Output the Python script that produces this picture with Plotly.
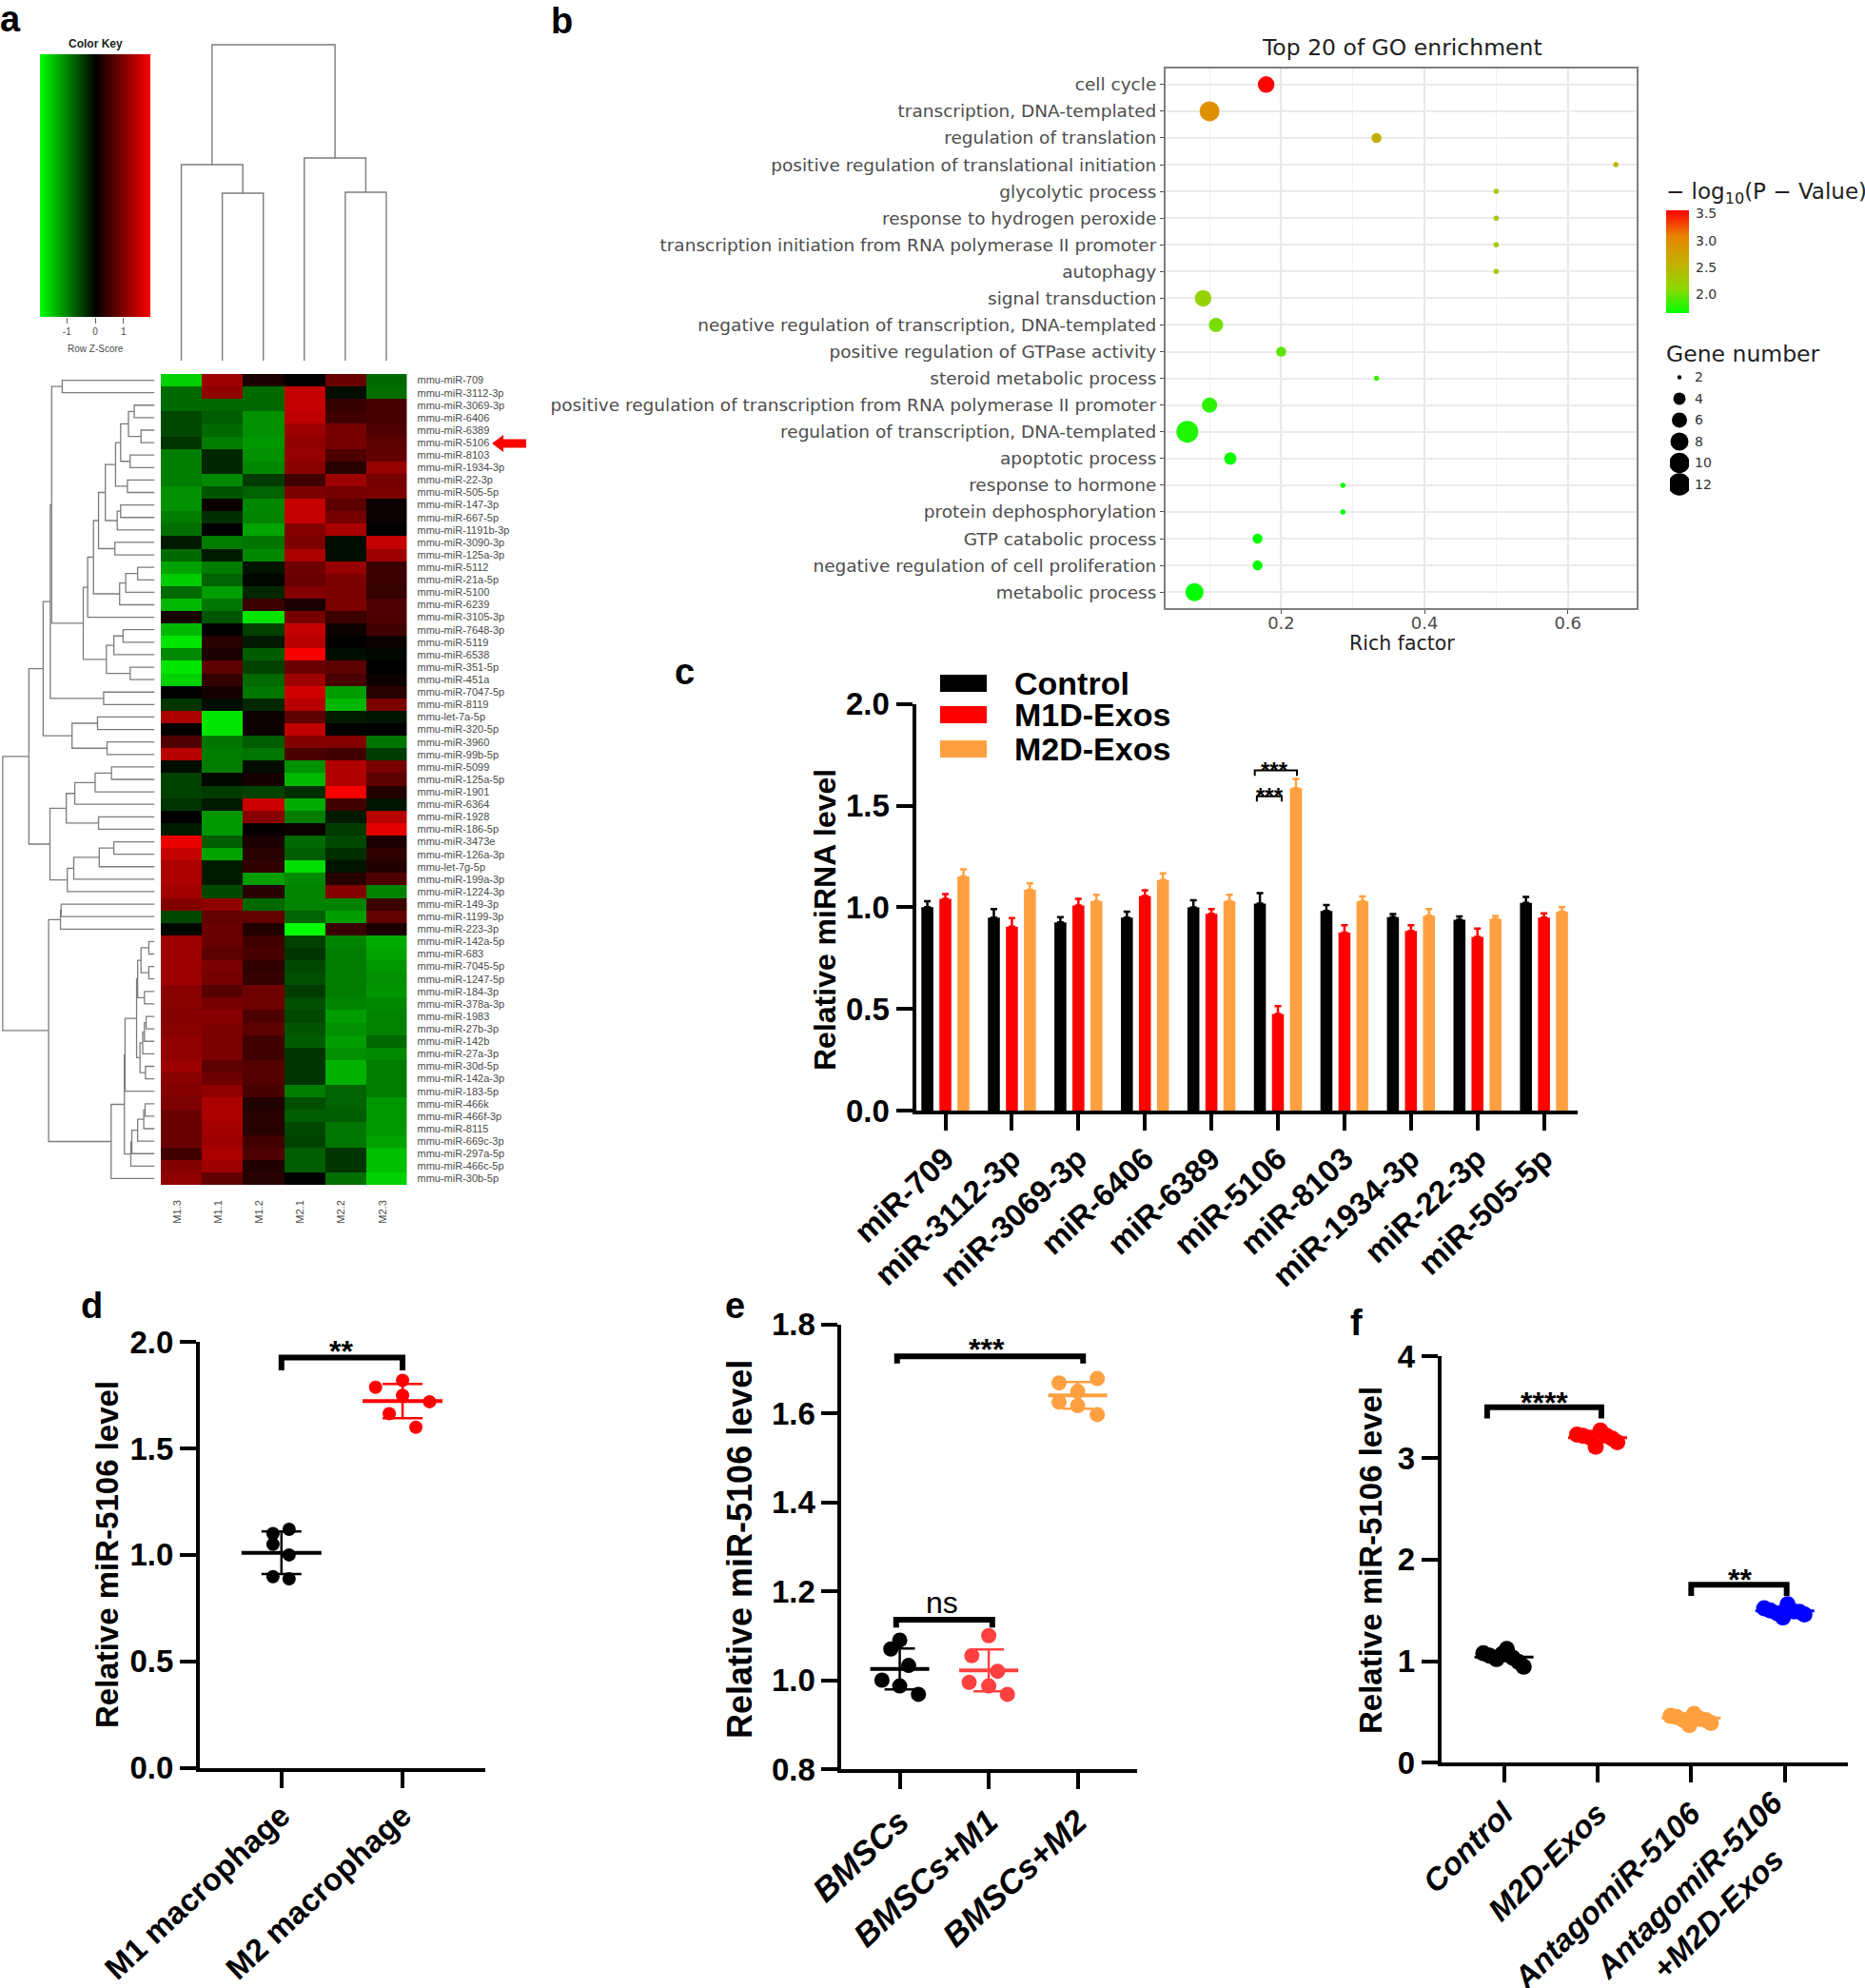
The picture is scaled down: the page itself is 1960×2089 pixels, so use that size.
import numpy as np
import plotly.graph_objects as go

W, H = 1960, 2089
ARIAL = "Liberation Sans"
DEJA = "DejaVu Sans"

# ---------- panel a ----------
sample_names = ["M1.3", "M1.1", "M1.2", "M2.1", "M2.2", "M2.3"]
row_names = ["mmu-miR-709","mmu-miR-3112-3p","mmu-miR-3069-3p","mmu-miR-6406","mmu-miR-6389","mmu-miR-5106","mmu-miR-8103",
 "mmu-miR-1934-3p","mmu-miR-22-3p","mmu-miR-505-5p","mmu-miR-147-3p","mmu-miR-667-5p","mmu-miR-1191b-3p","mmu-miR-3090-3p",
 "mmu-miR-125a-3p","mmu-miR-5112","mmu-miR-21a-5p","mmu-miR-5100","mmu-miR-6239","mmu-miR-3105-3p","mmu-miR-7648-3p",
 "mmu-miR-5119","mmu-miR-6538","mmu-miR-351-5p","mmu-miR-451a","mmu-miR-7047-5p","mmu-miR-8119","mmu-let-7a-5p",
 "mmu-miR-320-5p","mmu-miR-3960","mmu-miR-99b-5p","mmu-miR-5099","mmu-miR-125a-5p","mmu-miR-1901","mmu-miR-6364",
 "mmu-miR-1928","mmu-miR-186-5p","mmu-miR-3473e","mmu-miR-126a-3p","mmu-let-7g-5p","mmu-miR-199a-3p","mmu-miR-1224-3p",
 "mmu-miR-149-3p","mmu-miR-1199-3p","mmu-miR-223-3p","mmu-miR-142a-5p","mmu-miR-683","mmu-miR-7045-5p","mmu-miR-1247-5p",
 "mmu-miR-184-3p","mmu-miR-378a-3p","mmu-miR-1983","mmu-miR-27b-3p","mmu-miR-142b","mmu-miR-27a-3p","mmu-miR-30d-5p",
 "mmu-miR-142a-3p","mmu-miR-183-5p","mmu-miR-466k","mmu-miR-466f-3p","mmu-miR-8115","mmu-miR-669c-3p","mmu-miR-297a-5p",
 "mmu-miR-466c-5p","mmu-miR-30b-5p"]
zscores = [
 [-1.6,1.2,.2,0,.8,-.8],[-.8,1.1,-.8,1.5,-.1,-.85],[-.8,-.8,-.8,1.5,.4,.55],[-.55,-.7,-1.1,1.45,.5,.55],
 [-.55,-.8,-1.1,1.2,.9,.6],[-.4,-.95,-1.15,1.1,.9,.7],[-.95,-.3,-1.1,1.15,.6,.75],[-.95,-.3,-1.05,1.05,.3,1.15],
 [-.95,-1.05,-.45,.5,1.2,.9],[-1.1,-.65,-.75,.95,.9,.95],[-1.1,.1,-1.05,1.5,.7,.1],[-.95,-.35,-1,1.5,.9,.1],
 [-.85,0,-1.25,1,1.3,0],[-.2,-.95,-.9,.95,-.1,1.5],[-.8,-.2,-1.05,1.3,-.1,1.2],[-1.25,-.95,-.15,.85,1.15,.45],
 [-1.55,-.75,-.05,.8,.95,.45],[-.8,-1.2,-.3,1,.95,.4],[-1.4,-.9,.45,.2,.95,.6],[.15,-.65,-1.75,.9,.45,.6],
 [-1.4,0,-.5,1.5,.1,.5],[-1.75,.3,-.2,1.4,0,.1],[-1.05,.2,-.7,1.9,-.1,-.05],[-1.75,.7,-.5,.8,.7,0],
 [-1.6,.4,-.8,1.2,.55,.1],[0,.15,-.9,1.6,-1.2,.3],[-.4,-.1,-.3,1.4,-1.4,.95],[1.3,-1.75,.1,.7,-.2,-.15],
 [.05,-1.75,.1,1.45,0,0],[.6,-.9,-.7,1,1,-.9],[1.4,-.95,-.9,.55,.5,-.45],[-.1,-.95,-.1,-1.1,1.35,.9],
 [-.5,-.05,.15,-1.4,1.35,.7],[-.5,-.45,-.5,-.35,1.9,.25],[-.4,-.2,1.55,-1.3,.5,-.15],[0,-1.15,1.05,-.95,-.2,1.4],
 [-.2,-1.15,.05,.1,-.45,1.75],[1.8,-.7,.2,-.8,-.55,.2],[1.5,-1.25,.3,-.7,-.35,.35],[1.3,-.2,.35,-1.7,-.15,.25],
 [1.3,-.2,-1.2,-1.05,.3,.6],[1.25,-.55,.3,-1,1,-1],[1,1.1,-.8,-1,-1,.45],[-.55,.75,.75,-.75,-1.2,.75],
 [-.05,.8,.25,-1.95,.45,.2],[1.2,.8,.5,-.5,-1,-1.3],[1.2,.7,.55,-.4,-.95,-1.25],[1.2,.95,.35,-.55,-.95,-1.15],
 [1.2,.9,.4,-.6,-.95,-1.1],[1.05,.65,.85,-.45,-.95,-1.15],[1.05,.9,.85,-.6,-1,-1.05],[1,1.05,.6,-.55,-1.2,-1],
 [1.05,.95,.7,-.65,-1.1,-1],[1.1,.95,.5,-.7,-1.2,-.8],[1.1,.95,.5,-.4,-1.1,-1.05],[1.2,.7,.65,-.4,-1.35,-.95],
 [1.05,.85,.65,-.4,-1.35,-.95],[1,1.1,.55,-.95,-.75,-.95],[.95,1.3,.25,-.6,-.75,-1.15],[.8,1.3,.3,-.7,-.7,-1.15],
 [.8,1.25,.3,-.55,-.9,-1.15],[.8,1.2,.5,-.5,-.9,-1.25],[.5,1.3,.6,-.7,-.4,-1.45],[1,1.2,.25,-.7,-.4,-1.45],
 [1.1,.75,.3,0,-.85,-1.6]]
key_values = [-1.95,-1.5,-1,-.5,0,.5,1,1.5,1.95]
key_ticks = [-1, 0, 1]

# dendrogram merges: (position of the merge, first child, second child); 0 is a leaf
row_tree = (8,
  (85,
    (127,
      (148,
        (152, (183,0,0),
          (245,
            (258,
              (275,
                (290,
                  (310,
                    (340,
                      (355, (378,(395,0,0),(415,0,0)), (383,0,0)),
                      (375,0,0)),
                    (345,(355,0,0),0)),
                  (338,0,0)),
                (352,(370,(405,0,0),0),0)),
              0),
            (313,(335,(362,0,0),0),(383,0,0)))),
        (305,0,0)),
      (212,(287,0,0),(315,0,0))),
    (147,
      (195,(220,(280,(328,0,0),0),0),(290,0,0)),
      (198,(217,(292,(335,0,0),0),0),0))),
  (143,
    (178,(180,0,0),0),
    (327,
      (366,
        (368,
          (402,
            (405,(415,(438,0,0),(438,0,0)),(425,0,0)),
            (412,(420,(425,(430,0,0),0),0),(428,0,0))),
          0),
        (385,(388,(405,(423,(427,0,0),0),0),0),0)),
      0)))
col_tree = (47, (173,0,(203,0,0)), (166,0,(202,0,0)))

# ---------- panel b ----------
go_terms = ["cell cycle","transcription, DNA-templated","regulation of translation","positive regulation of translational initiation",
 "glycolytic process","response to hydrogen peroxide","transcription initiation from RNA polymerase II promoter","autophagy",
 "signal transduction","negative regulation of transcription, DNA-templated","positive regulation of GTPase activity",
 "steroid metabolic process","positive regulation of transcription from RNA polymerase II promoter",
 "regulation of transcription, DNA-templated","apoptotic process","response to hormone","protein dephosphorylation",
 "GTP catabolic process","negative regulation of cell proliferation","metabolic process"]
rich_factor = [.179,.1,.333,.667,.5,.5,.5,.5,.091,.109,.2,.333,.1,.069,.129,.286,.286,.167,.167,.079]
gene_number = [7,10,3,2,2,2,2,2,7,5,3,2,6,12,4,2,2,3,3,8]
log_p = [3.55,2.95,2.6,2.5,2.32,2.3,2.28,2.25,2.2,2.05,1.95,1.85,1.8,1.75,1.7,1.68,1.67,1.66,1.65,1.65]
p_scale_ticks = [2, 2.5, 3, 3.5]
p_scale_values = [1.65,1.9,2.15,2.4,2.65,2.9,3.15,3.4,3.56]
gene_legend = [2,4,6,8,10,12]
gene_sizes_n = [2,3,4,5,6,7,8,10,12]
gene_sizes_px = [5.5,10.5,13,15,16,17.5,19,21,23]

# ---------- panel c ----------
mirnas = ["miR-709","miR-3112-3p","miR-3069-3p","miR-6406","miR-6389","miR-5106","miR-8103","miR-1934-3p","miR-22-3p","miR-505-5p"]
ctrl_vals = [1.0,.949,.925,.949,.999,1.018,.982,.951,.939,1.022]
ctrl_err = [.03,.042,.026,.029,.035,.052,.029,.015,.016,.029]
m1_vals = [1.042,.904,1.009,1.055,.968,.475,.875,.883,.854,.949]
m1_err = [.023,.043,.033,.029,.023,.039,.037,.029,.041,.021]
m2_vals = [1.152,1.086,1.03,1.134,1.03,1.585,1.03,.958,.943,.978]
m2_err = [.034,.031,.031,.033,.031,.046,.023,.033,.014,.022]

# ---------- panels d, e, f ----------
d_cats = ["M1 macrophage","M2 macrophage"]
d_m1 = [1.12,1.10,1.05,1.0,.898,.888]
d_m1_off = [.063,-.07,-.07,.063,-.07,.063]
d_m2 = [1.82,1.788,1.75,1.72,1.664,1.60]
d_m2_off = [0,-.223,0,.223,-.11,.11]
d_means = [1.01,1.723]
d_sd = [.1,.081]

e_cats = ["BMSCs","BMSCs+M1","BMSCs+M2"]
e_a = [1.09,1.07,1.033,1.0,.987,.968]
e_a_off = [0,-.1,.1,-.2,0,.21]
e_b = [1.10,1.055,1.02,.995,.987,.968]
e_b_off = [0,-.19,.1,-.22,0,.21]
e_c = [1.678,1.668,1.649,1.625,1.617,1.597]
e_c_off = [.22,-.21,0,-.21,0,.22]
e_means = [1.025,1.022,1.64]
e_sd = [.046,.047,.03]

f_cats = ["Control","M2D-Exos","AntagomiR-5106"," "]
f_last_label = "AntagomiR-5106<br>+M2D-Exos"
f_off = [-.22,-.157,-.08,.03,.094,.157,.21,-.02]
f_a = [1.077,1.055,1.02,1.12,1.033,.99,.945,1.07]
f_b = [3.23,3.22,3.2,3.27,3.22,3.19,3.155,3.11]
f_c = [.46,.45,.42,.48,.43,.42,.39,.37]
f_d = [1.52,1.5,1.47,1.56,1.49,1.485,1.46,1.43]
f_means = [1.04,3.2,.44,1.495]
f_sd = [.04,.04,.03,.03]

# ---------- helpers ----------
fig = go.Figure()
layout = {}
annos = []
shapes = []

def dx(a, b): return [a / W, b / W]
def dy(top, bot): return [1 - bot / H, 1 - top / H]

def axes(n, xd, yd, xa=None, ya=None):
    base = dict(showgrid=False, zeroline=False, visible=True)
    xx = dict(base, domain=xd, anchor=f"y{n}"); xx.update(xa or {})
    yy = dict(base, domain=yd, anchor=f"x{n}"); yy.update(ya or {})
    layout[f"xaxis{n}"] = xx
    layout[f"yaxis{n}"] = yy
    return f"x{n}", f"y{n}"

def hidden(**k):
    d = dict(visible=False, fixedrange=True)
    d.update(k)
    return d

def txt(x, y, s, size, color="black", bold=False, italic=False, angle=0, family=ARIAL, xa="center", ya="middle"):
    if bold: s = f"<b>{s}</b>"
    if italic: s = f"<i>{s}</i>"
    annos.append(dict(xref="paper", yref="paper", x=x / W, y=1 - y / H, text=s, showarrow=False, textangle=angle,
                      xanchor=xa, yanchor=ya, font=dict(family=family, size=size, color=color)))

def tree_lines(node, counter, leaf_pos):
    if node == 0:
        i = counter[0]; counter[0] += 1
        return float(i), leaf_pos, [], []
    h, a, b = node
    ya_, xa_, px1, py1 = tree_lines(a, counter, leaf_pos)
    yb_, xb_, px2, py2 = tree_lines(b, counter, leaf_pos)
    px = px1 + px2 + [xa_, h, h, xb_, None]
    py = py1 + py2 + [ya_, ya_, yb_, yb_, None]
    return (ya_ + yb_) / 2, h, px, py

DEND = "#7c7c7c"
TXT_A = "#4a4a4a"
rg = [[0, "#00ff00"], [.5, "#000000"], [1, "#ff0000"]]

# ---------- panel a drawing ----------
hm_l, hm_r, hm_t, hm_b = 169, 427.5, 393, 1245
xn, yn = axes(1, dx(hm_l, hm_r), dy(hm_t, hm_b),
    dict(tickmode="array", tickvals=sample_names, ticktext=sample_names, tickangle=-90, ticks="", ticklabelstandoff=13, ticklabelshift=-4,
         tickfont=dict(family=ARIAL, size=11, color=TXT_A), type="category"),
    dict(tickmode="array", tickvals=row_names, ticktext=row_names, side="right", ticks="", ticklabelstandoff=10,
         tickfont=dict(family=ARIAL, size=11, color=TXT_A), type="category", autorange="reversed"))
fig.add_trace(go.Heatmap(z=zscores, x=sample_names, y=row_names, colorscale=rg, zmin=-1.95, zmax=1.95, showscale=False,
                         xaxis=xn, yaxis=yn, xgap=0, ygap=0))

_, _, rx, ry = tree_lines(row_tree, [0], 455)
xn, yn = axes(2, dx(0, 162.5), dy(hm_t, hm_b), hidden(range=[0, 455]), hidden(range=[64.5, -.5]))
fig.add_trace(go.Scatter(x=rx, y=ry, mode="lines", line=dict(color=DEND, width=1.3), xaxis=xn, yaxis=yn, hoverinfo="skip"))

_, _, cy, cx = tree_lines(col_tree, [0], 379)
xn, yn = axes(3, dx(hm_l, hm_r), dy(40, 379), hidden(range=[-.5, 5.5]), hidden(range=[379, 40]))
fig.add_trace(go.Scatter(x=cx, y=cy, mode="lines", line=dict(color=DEND, width=1.4), xaxis=xn, yaxis=yn, hoverinfo="skip"))

xn, yn = axes(4, dx(42, 158), dy(57, 333),
    dict(range=[-1.95, 1.95], tickmode="array", tickvals=key_ticks, ticktext=["-1", "0", "1"], ticks="outside", ticklen=6,
         tickcolor="#666", tickwidth=1, tickfont=dict(family=ARIAL, size=10, color=TXT_A)),
    hidden(range=[0, 1]))
fig.add_trace(go.Heatmap(z=[key_values, key_values], x=key_values, y=[0, 1], colorscale=rg, zmin=-1.95, zmax=1.95,
                         zsmooth="best", showscale=False, xaxis=xn, yaxis=yn, hoverinfo="skip"))
txt(100, 46, "Color Key", 12, "#222", bold=True)
txt(100, 367, "Row Z-Score", 10, TXT_A)
arrow_pts = [(517, 466), (529, 457), (529, 461.5), (553, 461.5), (553, 470.5), (529, 470.5), (529, 475)]
shapes.append(dict(type="path", xref="paper", yref="paper", fillcolor="#ff0000", line=dict(width=0),
                   path="M" + " L".join(f"{px / W:.5f},{1 - py / H:.5f}" for px, py in arrow_pts) + " Z"))

# ---------- panel b drawing ----------
GR = "#4d4d4d"
p_scale = [[0, "#00ff00"], [.25, "#8fd800"], [.5, "#c4ae00"], [.75, "#e88400"], [1, "#ff0000"]]
xn, yn = axes(5, dx(1225, 1720), dy(72, 639),
    dict(range=[.0387, .696], tickmode="array", tickvals=[.2, .4, .6], ticktext=["0.2", "0.4", "0.6"], ticks="outside", ticklen=4,
         tickcolor=GR, showgrid=True, gridcolor="#e8e8e8", gridwidth=1.5, showline=True, mirror=True, linecolor="#7f7f7f", linewidth=2,
         ticklabelstandoff=-6, tickfont=dict(family=DEJA, size=18, color=GR),
         minor=dict(tickmode="array", tickvals=[.1, .3, .5], showgrid=True, gridcolor="#f1f1f1", gridwidth=1, ticks="")),
    dict(type="category", tickmode="array", tickvals=go_terms, ticktext=go_terms, range=[19.6, -.6], ticks="outside", ticklen=4,
         tickcolor=GR, showgrid=True, gridcolor="#ebebeb", gridwidth=2, showline=True, mirror=True, linecolor="#7f7f7f", linewidth=2,
         tickfont=dict(family=DEJA, size=18.5, color=GR)))
sz = np.interp(gene_number, gene_sizes_n, gene_sizes_px).tolist()
fig.add_trace(go.Scatter(x=rich_factor, y=go_terms, mode="markers", xaxis=xn, yaxis=yn,
    marker=dict(size=sz, color=log_p, cmin=1.65, cmax=3.56, line=dict(width=0), colorscale=p_scale, showscale=False, opacity=1)))
xn, yn = axes(11, dx(1751, 1775), dy(221, 329), hidden(range=[0, 1]),
    dict(range=[1.65, 3.56], side="right", tickmode="array", tickvals=p_scale_ticks, ticktext=["2.0", "2.5", "3.0", "3.5"], ticks="",
         ticklabelstandoff=6, tickfont=dict(family=DEJA, size=14, color="#333")))
fig.add_trace(go.Heatmap(z=[[v, v] for v in p_scale_values], x=[0, 1], y=p_scale_values, colorscale=p_scale, zmin=1.65, zmax=3.56,
                         zsmooth="best", showscale=False, xaxis=xn, yaxis=yn, hoverinfo="skip"))
txt(1473, 50, "Top 20 of GO enrichment", 23.5, "#222", family=DEJA)
txt(1473, 676, "Rich factor", 20.5, "#222", family=DEJA)
txt(1749, 203, "− log<sub>10</sub>(P − Value)", 23, "#222", family=DEJA, xa="left")
txt(1749, 372, "Gene number", 23.5, "#222", family=DEJA, xa="left")
g_sizes = np.interp(gene_legend, [2, 4, 6, 8, 10, 12], [4.5, 13, 16, 19, 21.5, 23.5]).tolist()
xn, yn = axes(6, dx(1755, 1775), dy(380, 525), hidden(range=[0, 1]),
    dict(range=[13.42, .544], side="right", tickmode="array", tickvals=gene_legend, ticktext=[str(g) for g in gene_legend], ticks="",
         ticklabelstandoff=5, tickfont=dict(family=DEJA, size=14, color="#333")))
fig.add_trace(go.Scatter(x=[.5] * len(gene_legend), y=gene_legend, mode="markers", xaxis=xn, yaxis=yn,
                         marker=dict(color="black", size=g_sizes, line=dict(width=0), opacity=1)))

# ---------- graphpad style axes ----------
def gp_axes(n, xpx, ypx, xrange, yrange, yticks, yfmt, cats, size=32, ysize=32, italic=False, angle=-43, standoff=0):
    ticktext = [f"<i>{c}</i>" if italic else c for c in cats]
    xa = dict(range=xrange, tickmode="array", tickvals=list(range(len(cats))), ticktext=ticktext, tickangle=angle, ticks="outside", ticklen=17,
              tickwidth=4, tickcolor="black", showline=True, linewidth=4, linecolor="black", ticklabelstandoff=standoff,
              tickfont=dict(family=ARIAL, size=size, color="black", weight="bold"))
    ya = dict(range=yrange, tickmode="array", tickvals=yticks, ticktext=[yfmt % v for v in yticks], ticks="outside", ticklen=17,
              tickwidth=4, tickcolor="black", showline=True, linewidth=4, linecolor="black",
              tickfont=dict(family=ARIAL, size=ysize, color="black", weight="bold"))
    return axes(n, dx(*xpx), dy(*ypx), xa, ya)

def bracket(xn, yn, x0, x1, y, drop, width=5):
    fig.add_trace(go.Scatter(x=[x0, x0, x1, x1], y=[y - drop, y, y, y - drop], mode="lines", xaxis=xn, yaxis=yn,
                             line=dict(color="black", width=width), hoverinfo="skip"))

def dots(xn, yn, center, offs, vals, mean, sd, color, size, half_px, cap_px, lw=4):
    fig.add_trace(go.Scatter(x=[center + o for o in offs], y=vals, mode="markers", xaxis=xn, yaxis=yn,
                             marker=dict(color=color, size=size, line=dict(width=0))))
    fig.add_trace(go.Scatter(x=[center], y=[mean], mode="markers", xaxis=xn, yaxis=yn,
                             marker=dict(symbol="line-ew", size=half_px * 2 / 1.4, color=color, line=dict(color=color, width=lw)),
                             error_y=dict(type="constant", value=sd, color=color, thickness=2.5, width=cap_px)))

# ---------- panel c drawing ----------
xn, yn = gp_axes(7, (962.5, 1658), (739.7, 1167), [-.444, 9.506], [0, 2], [0, .5, 1, 1.5, 2], "%.1f", mirnas, size=33, ysize=33, standoff=-3)
for name, v, e, c in [("Control", ctrl_vals, ctrl_err, "#000000"), ("M1D-Exos", m1_vals, m1_err, "#ff0000"), ("M2D-Exos", m2_vals, m2_err, "#ffa040")]:
    fig.add_trace(go.Bar(name=name, x=list(range(10)), y=v, marker=dict(color=c, line=dict(width=0)), xaxis=xn, yaxis=yn,
                         error_y=dict(type="data", array=e, arrayminus=[0] * 10, color=c, thickness=2.5, width=3.5)))
layout["barmode"] = "group"
layout["bargap"] = .187
layout["bargroupgap"] = .336
bracket(xn, yn, 4.652, 5.286, 1.673, .027, 2)
bracket(xn, yn, 4.683, 5.057, 1.546, .026, 2)
txt(1339, 809, "***", 24, bold=True, ya="middle")
txt(1334, 836, "***", 24, bold=True, ya="middle")
for y, c, s in [(718, "#000000", "Control"), (751, "#ff0000", "M1D-Exos"), (787, "#ffa040", "M2D-Exos")]:
    shapes.append(dict(type="rect", xref="paper", yref="paper", x0=988 / W, x1=1037 / W, y0=1 - (y - 9) / H, y1=1 - (y + 9) / H,
                       fillcolor=c, line=dict(width=0)))
    txt(1064, y, s, 34, bold=True, xa="left")
txt(867, 967, "Relative miRNA level", 32, bold=True, angle=-90)

# ---------- panel d drawing ----------
xn, yn = gp_axes(8, (210, 510), (1410.3, 1857.5), [-.674, 1.683], [0, 2], [0, .5, 1, 1.5, 2], "%.1f", d_cats, size=33, ysize=33, standoff=-3)
dots(xn, yn, 0, d_m1_off, d_m1, d_means[0], d_sd[0], "#000000", 14, 42, 21)
dots(xn, yn, 1, d_m2_off, d_m2, d_means[1], d_sd[1], "#ff0000", 14, 42, 21)
bracket(xn, yn, 0, 1, 1.927, .06, 6)
txt(358, 1420, "**", 32, bold=True)
txt(112, 1634, "Relative miR-5106 level", 33, bold=True, angle=-90)

# ---------- panel e drawing ----------
xn, yn = gp_axes(9, (884.4, 1195), (1391.5, 1859), [-.654, 2.667], [.8, 1.8], [.8, 1, 1.2, 1.4, 1.6, 1.8], "%.1f", e_cats, size=35, ysize=33, italic=True)
dots(xn, yn, 0, e_a_off, e_a, e_means[0], e_sd[0], "#000000", 16, 31, 16)
dots(xn, yn, 1, e_b_off, e_b, e_means[1], e_sd[1], "#ff4040", 16, 31, 16)
dots(xn, yn, 2, e_c_off, e_c, e_means[2], e_sd[2], "#ffa040", 16, 31, 16)
bracket(xn, yn, -.03, 2.06, 1.728, .016, 6)
bracket(xn, yn, -.04, 1.04, 1.136, .018, 6)
txt(1037, 1418, "***", 32, bold=True)
txt(990, 1684, "ns", 32)
txt(777, 1628, "Relative miR-5106 level", 36, bold=True, angle=-90)

# ---------- panel f drawing ----------
xn, yn = gp_axes(10, (1514.8, 1942.3), (1425.4, 1852.2), [-.669, 3.677], [0, 4], [0, 1, 2, 3, 4], "%d", f_cats, size=33, ysize=33, italic=True, angle=-45)
for i, (v, c) in enumerate(zip([f_a, f_b, f_c, f_d], ["#000000", "#ff0000", "#ffa040", "#0000ff"])):
    dots(xn, yn, i, f_off, v, f_means[i], f_sd[i], c, 17, 31, 12, lw=3)
bracket(xn, yn, -.18, 1.04, 3.5, .11, 6)
bracket(xn, yn, 2, 3.02, 1.753, .11, 6)
txt(1623, 1474, "****", 32, bold=True)
txt(1828, 1660, "**", 32, bold=True)
txt(1790, 1996, f_last_label, 33, bold=True, italic=True, angle=-45)
txt(1440, 1640, "Relative miR-5106 level", 33, bold=True, angle=-90)

# ---------- panel letters ----------
for x, y, s in [(11, 20, "a"), (590, 22, "b"), (719, 706, "c"), (96, 1372, "d"), (772, 1372, "e"), (1425, 1390, "f")]:
    txt(x, y, s, 38, bold=True)

fig.update_layout(width=W, height=H, margin=dict(l=0, r=0, t=0, b=0, autoexpand=False), paper_bgcolor="white", plot_bgcolor="rgba(0,0,0,0)",
                  showlegend=False, annotations=annos, shapes=shapes, **layout)
fig.write_html("out.html", config={"displayModeBar": False},
               post_script="document.body.style.margin='0';document.documentElement.style.overflow='hidden';")
